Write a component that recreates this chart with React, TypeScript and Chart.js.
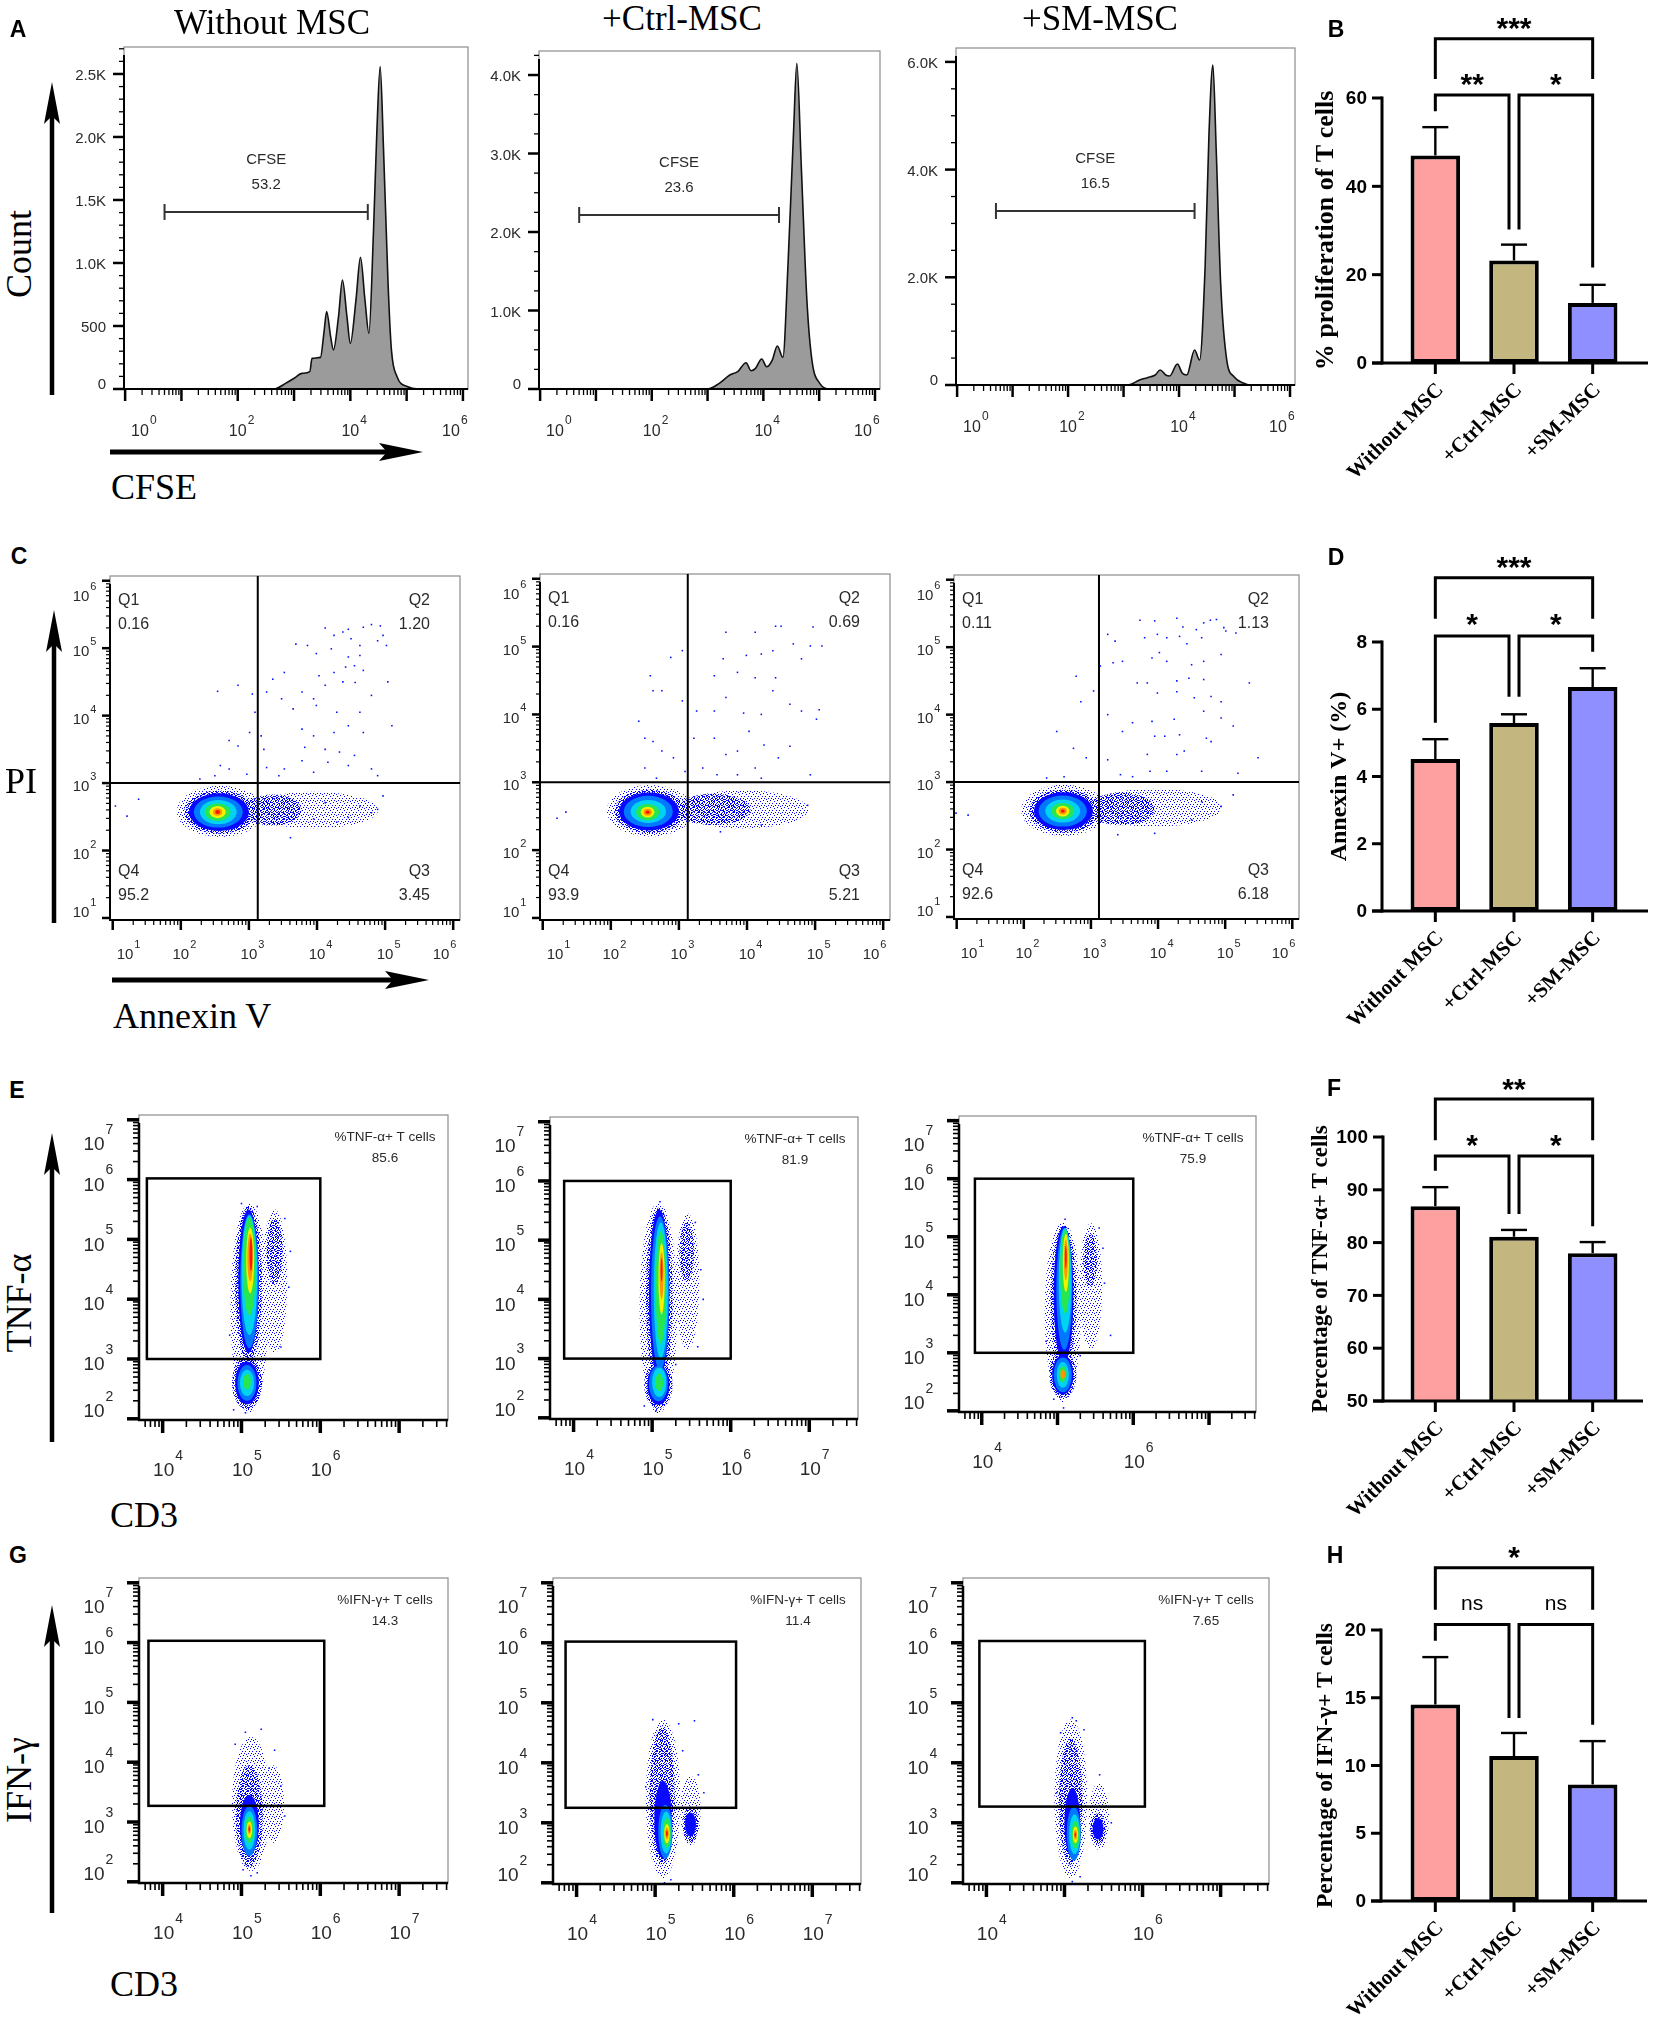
import React, { useEffect, useRef } from "react";
import { Chart, registerables } from "chart.js";
Chart.register(...registerables);

const SANS = "'Liberation Sans', Arial, sans-serif";
const SERIF = "'Liberation Serif', 'Times New Roman', serif";

// ================= DATA =================
const GROUPS = ["Without MSC", "+Ctrl-MSC", "+SM-MSC"];

// Panel A: CFSE histograms  [log10(CFSE), count]
const CFSE_WITHOUT = [
  [-0.02, 0], [2.6, 0], [2.67, 2], [2.85, 45], [3.0, 85], [3.14, 124], [3.28, 138], [3.32, 243], [3.47, 251],
  [3.53, 442], [3.58, 614], [3.65, 415], [3.7, 310], [3.79, 574], [3.86, 865], [3.94, 574], [4.0, 362],
  [4.1, 706], [4.18, 1045], [4.26, 706], [4.33, 442], [4.41, 1236], [4.47, 2029], [4.53, 2558], [4.59, 1897],
  [4.67, 839], [4.73, 310], [4.83, 98], [5.02, 18], [5.2, 0], [6.09, 0],
];
const CFSE_CTRL = [
  [-0.02, 0], [2.95, 0], [3.02, 2], [3.21, 72], [3.4, 178], [3.54, 221], [3.69, 335], [3.78, 233], [3.86, 263],
  [3.97, 382], [4.06, 284], [4.16, 369], [4.25, 548], [4.35, 404], [4.44, 1558], [4.54, 3257], [4.6, 4149],
  [4.68, 2832], [4.78, 1134], [4.87, 369], [5.01, 72], [5.2, 0], [6.09, 0],
];
const CFSE_SM = [
  [-0.02, 0], [3.05, 0], [3.1, 2], [3.29, 93], [3.43, 136], [3.57, 186], [3.66, 279], [3.76, 186], [3.83, 167],
  [3.97, 390], [4.06, 217], [4.14, 186], [4.28, 650], [4.37, 464], [4.47, 2197], [4.54, 4674], [4.61, 5942],
  [4.67, 4364], [4.75, 1888], [4.86, 464], [4.99, 155], [5.17, 31], [5.27, 0], [6.09, 0],
];
const CFSE_SERIES = [CFSE_WITHOUT, CFSE_CTRL, CFSE_SM];
const CFSE_YMAX = [2714, 4306, 6258];
const CFSE_YTICKS = [[0, 500, 1000, 1500, 2000, 2500], [0, 1000, 2000, 3000, 4000], [0, 2000, 4000, 6000]];
const CFSE_YTICK_LABELS = [["0", "500", "1.0K", "1.5K", "2.0K", "2.5K"], ["0", "1.0K", "2.0K", "3.0K", "4.0K"], ["0", "2.0K", "4.0K", "6.0K"]];
const CFSE_YMINOR = [100, 250, 500];
const CFSE_XLABELS = [0, 2, 4, 6];
const CFSE_GATE_FROM = [0.7, 0.7, 0.7];
const CFSE_GATE_TO = [4.31, 4.28, 4.28];
const CFSE_GATE_AT = [1405, 2217, 3231];
const CFSE_GATE_PCT = ["53.2", "23.6", "16.5"];

// Panel C: Annexin V / PI  (log10 values)
const QUAD_X_SPLIT = [3.13, 3.13, 3.12];
const QUAD_Y_SPLIT = [3.0, 3.0, 3.0];
const QUAD_PCT = [
  ["0.16", "1.20", "3.45", "95.2"],
  ["0.16", "0.69", "5.21", "93.9"],
  ["0.11", "1.13", "6.18", "92.6"],
];
const QUAD_XLABELS = [1, 2, 3, 4, 5, 6];
const QUAD_YLABELS = [1, 2, 3, 4, 5, 6];
// density blobs: [cx, cy, rx, ry, level]
const C1_BLOBS = [
  [2.58, 2.58, 0.64, 0.38, 1], [3.95, 2.6, 0.95, 0.27, 1], [3.35, 2.6, 0.42, 0.23, 2], [2.57, 2.57, 0.52, 0.32, 2],
  [2.56, 2.57, 0.44, 0.28, 3], [2.55, 2.57, 0.36, 0.23, 4], [2.55, 2.57, 0.27, 0.18, 5], [2.54, 2.57, 0.19, 0.13, 6],
  [2.54, 2.57, 0.12, 0.09, 7], [2.54, 2.57, 0.07, 0.055, 8], [2.54, 2.57, 0.035, 0.03, 9],
];
const C2_BLOBS = [
  [2.58, 2.58, 0.64, 0.38, 1], [3.95, 2.6, 0.95, 0.28, 1], [3.5, 2.6, 0.55, 0.23, 2], [2.57, 2.57, 0.52, 0.32, 2],
  [2.56, 2.57, 0.44, 0.28, 3], [2.55, 2.57, 0.36, 0.23, 4], [2.55, 2.57, 0.26, 0.17, 5], [2.54, 2.56, 0.17, 0.12, 6],
  [2.54, 2.56, 0.1, 0.08, 7], [2.54, 2.56, 0.06, 0.05, 8], [2.54, 2.56, 0.03, 0.025, 9],
];
const C3_BLOBS = [
  [2.6, 2.58, 0.64, 0.38, 1], [3.95, 2.62, 1.0, 0.28, 1], [3.45, 2.6, 0.5, 0.24, 2], [2.6, 2.57, 0.52, 0.32, 2],
  [2.59, 2.57, 0.44, 0.28, 3], [2.58, 2.57, 0.36, 0.23, 4], [2.58, 2.57, 0.26, 0.17, 5], [2.58, 2.57, 0.17, 0.12, 6],
  [2.58, 2.57, 0.1, 0.08, 7], [2.58, 2.57, 0.06, 0.05, 8], [2.58, 2.57, 0.03, 0.025, 9],
];
const C1_DOTS = [
  [4.12, 5.3], [4.25, 5.19], [4.38, 5.24], [4.46, 5.28], [4.68, 5.31], [4.8, 5.35], [4.93, 5.33], [4.97, 5.19], [4.5, 5.14],
  [4.63, 5.04], [4.89, 5.11], [5.02, 5.04], [3.69, 5.06], [3.86, 5.04], [3.99, 4.92], [4.21, 4.99], [4.46, 4.87], [4.63, 4.89],
  [4.42, 4.72], [4.55, 4.74], [4.68, 4.67], [4.25, 4.64], [4.03, 4.59], [4.38, 4.5], [4.56, 4.49], [5.04, 4.5], [4.8, 4.3],
  [3.78, 4.35], [3.95, 4.25], [4.12, 4.45], [3.52, 4.64], [3.35, 4.54], [3.26, 4.35], [3.05, 4.32], [2.84, 4.45], [2.54, 4.36],
  [3.48, 4.25], [3.65, 4.1], [3.99, 4.15], [4.29, 4.05], [4.63, 4.05], [3.09, 4.05], [3.01, 3.75], [3.18, 3.7], [3.78, 3.8],
  [3.95, 3.7], [4.25, 3.75], [4.46, 3.85], [4.68, 3.75], [5.1, 3.85], [2.71, 3.63], [2.84, 3.55], [3.22, 3.5], [3.82, 3.53],
  [4.12, 3.5], [4.33, 3.46], [4.55, 3.41], [2.58, 3.26], [2.71, 3.21], [3.26, 3.23], [3.52, 3.21], [3.78, 3.33], [3.95, 3.16],
  [4.16, 3.31], [4.46, 3.26], [4.8, 3.21], [4.89, 3.11], [2.5, 3.11], [2.28, 3.06], [2.97, 3.13], [3.44, 3.11],
  [1.38, 2.76], [1.21, 2.51], [1.04, 2.66], [3.61, 2.19], [4.97, 2.81], [4.89, 2.61], [4.8, 2.56], [4.46, 2.49], [4.29, 2.42],
  [4.63, 2.66], [4.12, 2.71], [3.95, 2.47],
];
const C2_DOTS = [
  [3.69, 5.21], [4.12, 5.21], [4.42, 5.3], [4.5, 5.3], [4.97, 5.29], [5.1, 5.01], [4.93, 5.01], [4.68, 5.04], [4.21, 4.89],
  [3.99, 4.87], [3.65, 4.82], [4.38, 4.94], [4.8, 4.82], [3.86, 4.62], [4.12, 4.54], [4.42, 4.54], [3.52, 4.57], [3.69, 4.25],
  [4.38, 4.35], [3.05, 4.94], [2.88, 4.84], [2.58, 4.57], [2.62, 4.35], [2.75, 4.35], [3.26, 4.05], [3.52, 4.05], [3.95, 4.02],
  [4.21, 4.0], [4.63, 4.15], [4.8, 4.05], [5.06, 4.07], [5.02, 3.93], [2.41, 3.9], [2.5, 3.65], [2.62, 3.6], [3.05, 4.2],
  [3.22, 3.65], [3.52, 3.65], [4.03, 3.75], [4.25, 3.55], [4.63, 3.53], [3.69, 3.41], [3.86, 3.46], [2.92, 3.36], [2.75, 3.46],
  [4.12, 3.21], [4.46, 3.36], [3.56, 3.11], [3.35, 3.21], [2.5, 3.21], [2.67, 3.06], [3.86, 3.11], [4.93, 3.11], [4.21, 3.06],
  [3.09, 3.16], [1.21, 2.47], [1.34, 2.56], [4.89, 2.66], [4.21, 2.37], [3.61, 2.27],
];
const C3_DOTS = [
  [3.73, 5.4], [3.95, 5.39], [4.28, 5.43], [4.37, 5.3], [4.57, 5.26], [4.68, 5.36], [4.78, 5.4], [4.87, 5.41], [4.98, 5.29],
  [5.16, 5.21], [5.01, 5.24], [3.25, 5.19], [3.36, 5.09], [3.8, 5.14], [3.99, 5.19], [4.13, 5.14], [4.32, 5.16], [4.43, 5.05],
  [4.65, 5.14], [4.02, 4.92], [3.91, 4.84], [4.13, 4.79], [4.5, 4.74], [4.68, 4.79], [4.94, 4.89], [3.33, 4.77], [3.47, 4.79],
  [3.14, 4.72], [3.69, 4.47], [3.84, 4.47], [4.28, 4.5], [4.46, 4.54], [4.68, 4.52], [5.36, 4.47], [3.99, 4.32], [4.28, 4.34],
  [4.54, 4.25], [4.79, 4.27], [4.94, 4.19], [2.78, 4.57], [3.04, 4.35], [2.85, 4.19], [3.25, 4.0], [3.62, 3.88], [3.91, 3.9],
  [4.24, 3.93], [4.68, 4.05], [4.94, 3.95], [5.12, 3.83], [2.49, 3.75], [2.74, 3.5], [2.93, 3.36], [3.47, 3.75], [3.95, 3.68],
  [4.1, 3.68], [4.32, 3.7], [4.72, 3.65], [4.79, 3.6], [5.49, 3.36], [3.25, 3.33], [3.84, 3.41], [4.28, 3.41], [4.39, 3.46],
  [5.19, 3.13], [3.44, 3.11], [3.62, 3.08], [3.88, 3.16], [4.13, 3.16], [4.65, 3.16], [2.6, 3.08], [2.34, 3.06],
  [5.12, 2.81], [4.94, 2.64], [4.65, 2.71], [4.5, 2.44], [3.95, 2.24], [3.4, 2.22], [1.17, 2.51], [0.99, 2.54],
];
const QUAD_BLOBS = [C1_BLOBS, C2_BLOBS, C3_BLOBS];
const QUAD_DOTS = [C1_DOTS, C2_DOTS, C3_DOTS];

// Panels E / G: CD3 vs cytokine (log10 values)
const TNF_GATES = [[3.8, 6.0, 3.0, 6.02], [3.88, 6.0, 3.0, 6.0], [3.91, 6.0, 3.0, 6.0]];
const TNF_PCT = ["85.6", "81.9", "75.9"];
const TNF_XLABELS = [[4, 5, 6], [4, 5, 6, 7], [4, 6]];
const IFN_GATES = [[3.82, 6.05, 3.27, 6.03], [3.86, 6.03, 3.25, 6.02], [3.91, 6.03, 3.27, 6.03]];
const IFN_PCT = ["14.3", "11.4", "7.65"];
const IFN_XLABELS = [[4, 5, 6, 7], [4, 5, 6, 7], [4, 6]];
const CYTO_YLABELS = [2, 3, 4, 5, 6, 7];
const E1_BLOBS = [
  [5.1, 3.85, 0.24, 1.75, 1], [5.42, 4.3, 0.16, 1.2, 1], [5.42, 4.8, 0.1, 0.55, 2], [5.09, 4.25, 0.17, 1.3, 2],
  [5.07, 2.6, 0.19, 0.44, 2], [5.09, 4.3, 0.13, 1.2, 3], [5.07, 2.6, 0.15, 0.36, 3], [5.1, 4.3, 0.115, 1.12, 4],
  [5.07, 2.6, 0.12, 0.3, 4], [5.1, 4.4, 0.1, 1.0, 5], [5.07, 2.6, 0.09, 0.22, 5], [5.1, 4.55, 0.08, 0.82, 6],
  [5.07, 2.62, 0.05, 0.13, 6], [5.11, 4.65, 0.05, 0.55, 7], [5.11, 4.7, 0.035, 0.4, 8], [5.12, 4.75, 0.018, 0.28, 9],
];
const E2_BLOBS = [
  [5.08, 3.85, 0.24, 1.78, 1], [5.45, 4.3, 0.15, 1.15, 1], [5.44, 4.8, 0.09, 0.5, 2], [5.09, 4.05, 0.17, 1.5, 2],
  [5.08, 2.55, 0.18, 0.4, 2], [5.09, 4.1, 0.13, 1.42, 3], [5.08, 2.56, 0.14, 0.34, 3], [5.1, 4.1, 0.115, 1.3, 4],
  [5.08, 2.58, 0.12, 0.3, 4], [5.11, 4.15, 0.09, 1.15, 5], [5.09, 2.6, 0.09, 0.25, 5], [5.11, 4.2, 0.065, 0.95, 6],
  [5.09, 2.6, 0.05, 0.15, 6], [5.12, 4.35, 0.04, 0.6, 7], [5.12, 4.4, 0.025, 0.4, 8], [5.12, 4.5, 0.012, 0.2, 9],
];
const E3_BLOBS = [
  [5.07, 3.7, 0.24, 1.55, 1], [5.44, 4.15, 0.15, 1.08, 1], [5.43, 4.6, 0.09, 0.45, 2], [5.08, 3.95, 0.17, 1.25, 2],
  [5.07, 2.62, 0.18, 0.4, 2], [5.08, 4.0, 0.13, 1.18, 3], [5.07, 2.62, 0.14, 0.34, 3], [5.09, 4.1, 0.105, 1.05, 4],
  [5.07, 2.62, 0.12, 0.3, 4], [5.1, 4.25, 0.085, 0.9, 5], [5.07, 2.62, 0.08, 0.22, 5], [5.1, 4.4, 0.065, 0.72, 6],
  [5.07, 2.63, 0.05, 0.14, 6], [5.11, 4.55, 0.04, 0.5, 7], [5.07, 2.63, 0.03, 0.08, 8], [5.11, 4.6, 0.025, 0.35, 8],
  [5.11, 4.65, 0.012, 0.2, 9],
];
const G1_BLOBS = [
  [5.12, 3.3, 0.24, 1.12, 1], [5.4, 3.3, 0.14, 0.65, 1], [5.1, 3.1, 0.17, 0.85, 2], [5.1, 2.95, 0.12, 0.5, 3],
  [5.1, 2.85, 0.1, 0.42, 4], [5.1, 2.86, 0.075, 0.32, 5], [5.1, 2.87, 0.055, 0.22, 6], [5.1, 2.87, 0.035, 0.14, 7],
  [5.1, 2.88, 0.02, 0.08, 8], [5.1, 2.88, 0.01, 0.04, 9],
];
const G2_BLOBS = [
  [5.1, 3.4, 0.22, 1.32, 1], [5.45, 3.2, 0.13, 0.58, 1], [5.45, 2.97, 0.1, 0.3, 2], [5.45, 2.97, 0.07, 0.2, 3],
  [5.09, 3.45, 0.16, 1.15, 2], [5.1, 3.05, 0.11, 0.65, 3], [5.13, 2.85, 0.09, 0.45, 4], [5.14, 2.84, 0.07, 0.35, 5],
  [5.15, 2.83, 0.05, 0.25, 6], [5.15, 2.82, 0.035, 0.16, 7], [5.15, 2.82, 0.022, 0.1, 8], [5.15, 2.82, 0.012, 0.05, 9],
];
const G3_BLOBS = [
  [5.08, 3.4, 0.21, 1.32, 1], [5.44, 3.1, 0.13, 0.55, 1], [5.43, 2.9, 0.1, 0.26, 2], [5.43, 2.9, 0.07, 0.18, 3],
  [5.08, 3.35, 0.15, 1.05, 2], [5.1, 3.0, 0.1, 0.58, 3], [5.12, 2.82, 0.09, 0.45, 4], [5.13, 2.81, 0.07, 0.33, 5],
  [5.14, 2.8, 0.05, 0.23, 6], [5.14, 2.8, 0.033, 0.14, 7], [5.14, 2.8, 0.02, 0.08, 8], [5.14, 2.8, 0.01, 0.04, 9],
];
const E1_DOTS = [[5.0, 5.6], [5.2, 5.55], [5.55, 5.35], [5.6, 4.2], [5.5, 3.2], [4.85, 3.4], [4.9, 2.15], [5.05, 2.1], [5.35, 3.0], [5.62, 4.8]];
const E2_DOTS = [[5.1, 5.65], [5.55, 5.3], [5.62, 4.5], [5.58, 3.2], [4.85, 3.0], [4.9, 2.2], [5.05, 2.12], [5.3, 2.9], [5.65, 4.0]];
const E3_DOTS = [[5.1, 5.3], [5.55, 5.15], [5.62, 4.2], [5.7, 3.3], [4.85, 3.2], [4.95, 2.2], [5.08, 2.05], [5.3, 2.95], [5.6, 4.8]];
const G1_DOTS = [[5.05, 4.5], [5.25, 4.55], [5.42, 4.2], [5.5, 3.6], [5.55, 3.1], [4.92, 4.3], [5.12, 2.1], [5.02, 2.2], [5.2, 2.15], [5.35, 3.9]];
const G2_DOTS = [[4.97, 4.72], [5.3, 4.65], [5.5, 4.7], [5.62, 3.5], [5.2, 2.05], [5.12, 2.0], [4.88, 3.6], [5.35, 4.2], [5.55, 3.8]];
const G3_DOTS = [[5.1, 4.75], [5.15, 4.7], [5.25, 4.55], [4.95, 4.5], [5.45, 3.8], [5.6, 3.0], [5.1, 2.02], [5.2, 2.1], [4.9, 3.5]];

// Bar panels
const PROLIF_MEAN = [47.0, 23.2, 13.6];
const PROLIF_ERR = [6.4, 3.6, 4.1];
const PROLIF_TICKS = [0, 20, 40, 60];
const PROLIF_SIG = [
  { a: 0, b: 1, y: 60.7, ya: 57.0, yb: 30.2, label: "**", ly: 64.8 },
  { a: 1, b: 2, y: 60.7, ya: 30.2, yb: 21.6, label: "*", ly: 64.8 },
  { a: 0, b: 2, y: 73.4, ya: 64.3, yb: 64.3, label: "***", ly: 77.5 },
];
const ANNEXIN_MEAN = [4.52, 5.59, 6.66];
const ANNEXIN_ERR = [0.59, 0.26, 0.56];
const ANNEXIN_TICKS = [0, 2, 4, 6, 8];
const ANNEXIN_SIG = [
  { a: 0, b: 1, y: 8.18, ya: 5.6, yb: 6.37, label: "*", ly: 8.75 },
  { a: 1, b: 2, y: 8.18, ya: 6.37, yb: 7.71, label: "*", ly: 8.75 },
  { a: 0, b: 2, y: 9.91, ya: 8.69, yb: 8.69, label: "***", ly: 10.45 },
];
const TNF_MEAN = [86.9, 81.1, 78.0];
const TNF_ERR = [3.6, 1.3, 2.1];
const TNF_TICKS = [50, 60, 70, 80, 90, 100];
const TNF_SIG = [
  { a: 0, b: 1, y: 96.4, ya: 93.6, yb: 85.4, label: "*", ly: 99.8 },
  { a: 1, b: 2, y: 96.4, ya: 85.4, yb: 83.1, label: "*", ly: 99.8 },
  { a: 0, b: 2, y: 107.2, ya: 99.4, yb: 99.4, label: "**", ly: 110.4 },
];
const IFN_MEAN = [14.5, 10.7, 8.6];
const IFN_ERR = [3.5, 1.7, 3.2];
const IFN_TICKS = [0, 5, 10, 15, 20];
const IFN_SIG = [
  { a: 0, b: 1, y: 20.4, ya: 19.2, yb: 13.5, label: "ns", ly: 21.9 },
  { a: 1, b: 2, y: 20.4, ya: 13.5, yb: 13.0, label: "ns", ly: 21.9 },
  { a: 0, b: 2, y: 24.6, ya: 21.5, yb: 21.5, label: "*", ly: 25.9 },
];

// ================= LAYOUT / STYLE =================
const BAR_COLORS = ["#FFA0A0", "#C3B67F", "#8F8FFF"];
const LEVEL_COLORS = ["", "#0000ff", "#0000ff", "#0a0aff", "#0078ff", "#00d2f0", "#28e650", "#f5f000", "#ff9600", "#ff1400"];
const SPARSE_TILE = { size: 7, dots: [[0, 0], [4, 1], [2, 3], [6, 3], [5, 5], [1, 5], [3, 6]] };
const MEDIUM_TILE = { size: 5, dots: [[0, 0], [2, 0], [4, 1], [1, 2], [3, 2], [0, 3], [4, 3], [2, 4], [1, 4]] };

const HIST_BOX = [[124, 47, 468, 389], [539, 51, 880, 389], [956, 48, 1295, 385]];
const QUAD_BOX = [[110, 576, 460, 920], [540, 574, 890, 920], [954, 575, 1299, 919]];
const TNF_BOX = [[139, 1115, 448, 1420], [550, 1117, 858, 1419], [959, 1116, 1256, 1412]];
const IFN_BOX = [[139, 1578, 448, 1883], [553, 1578, 861, 1884], [963, 1578, 1269, 1884]];
const HIST_X = [-0.02, 6.09];
const QUAD_X = [0.96, 6.1];
const QUAD_Y = [0.97, 6.07];
const CD3_X = [3.7, 7.62];
const CYTO_Y = [1.98, 7.08];
const FM = { L: 78, T: 12, R: 12, B: 72 };

// ================= HELPERS =================
function seg(ctx: any, x1: number, y1: number, x2: number, y2: number) {
  ctx.beginPath(); ctx.moveTo(x1, y1); ctx.lineTo(x2, y2); ctx.stroke();
}
function clamp(v: number, lo: number, hi: number) { return Math.max(lo, Math.min(hi, v)); }
function decadesIn(lo: number, hi: number) { const o: number[] = []; for (let d = Math.ceil(lo); d <= Math.floor(hi); d++) o.push(d); return o; }
function minorsIn(lo: number, hi: number) {
  const o: number[] = [];
  for (let d = Math.floor(lo) - 1; d <= Math.ceil(hi); d++) for (let k = 2; k <= 9; k++) { const v = d + Math.log10(k); if (v >= lo && v <= hi) o.push(v); }
  return o;
}
function supLabel(ctx: any, cx: number, cy: number, exp: number, fs: number, ss: number, dy: number) {
  ctx.fillStyle = "#2a2a2a";
  ctx.font = `${fs}px ${SANS}`; ctx.textAlign = "center"; ctx.textBaseline = "middle"; ctx.fillText("10", cx, cy);
  const w = ctx.measureText("10").width;
  ctx.font = `${ss}px ${SANS}`; ctx.textAlign = "left"; ctx.fillText(String(exp), cx + w / 2 + 1, cy + dy);
}
function makePattern(ctx: any, tile: any, color: string) {
  const c = document.createElement("canvas"); c.width = tile.size; c.height = tile.size;
  const g = c.getContext("2d")!; g.fillStyle = color;
  for (const [x, y] of tile.dots) g.fillRect(x, y, 1, 1);
  return ctx.createPattern(c, "repeat");
}
function flowRect(box: number[]) {
  const [l, t, r, b] = box;
  return { left: l - FM.L, top: t - FM.T, width: r - l + FM.L + FM.R, height: b - t + FM.T + FM.B };
}
function baseOptions(pad: any, xr: number[], yr: number[]) {
  return {
    animation: false, responsive: false, maintainAspectRatio: false, events: [],
    layout: { padding: pad },
    plugins: { legend: { display: false }, tooltip: { enabled: false }, title: { display: false } },
    scales: {
      x: { type: "linear", display: false, min: xr[0], max: xr[1] },
      y: { type: "linear", display: false, min: yr[0], max: yr[1] },
    },
  };
}
const FLOW_PAD = { left: FM.L, top: FM.T, right: FM.R, bottom: FM.B };

function blobPlugin(blobs: number[][]) {
  return {
    id: "blobs",
    beforeDatasetsDraw(chart: any) {
      const { ctx, chartArea: a, scales: { x, y } } = chart;
      const fills: any[] = LEVEL_COLORS.map((c, i) => (i === 1 ? makePattern(ctx, SPARSE_TILE, c) : i === 2 ? makePattern(ctx, MEDIUM_TILE, c) : c));
      ctx.save(); ctx.beginPath(); ctx.rect(a.left, a.top, a.right - a.left, a.bottom - a.top); ctx.clip();
      const sorted = [...blobs].sort((p, q) => p[4] - q[4]);
      for (const [cx, cy, rx, ry, lv] of sorted) {
        const px = x.getPixelForValue(cx), py = y.getPixelForValue(cy);
        const prx = Math.abs(x.getPixelForValue(cx + rx) - px), pry = Math.abs(y.getPixelForValue(cy + ry) - py);
        ctx.fillStyle = fills[lv]; ctx.beginPath(); ctx.ellipse(px, py, prx, pry, 0, 0, Math.PI * 2); ctx.fill();
      }
      ctx.restore();
    },
  };
}

function boxAndAxes(chart: any, st: any) {
  const { ctx, chartArea: a } = chart;
  ctx.strokeStyle = "#8c8c8c"; ctx.lineWidth = 1.2; ctx.strokeRect(a.left, a.top, a.right - a.left, a.bottom - a.top);
  ctx.strokeStyle = "#000"; ctx.lineWidth = st.axisW;
  seg(ctx, a.left, a.top + 8, a.left, a.bottom + 1); seg(ctx, a.left - 1, a.bottom, a.right, a.bottom);
}
function logTicks(chart: any, st: any, doY: boolean) {
  const { ctx, chartArea: a, scales: { x, y } } = chart;
  ctx.strokeStyle = "#000";
  if (doY) {
    for (const v of minorsIn(y.min, y.max)) { const p = y.getPixelForValue(v); ctx.lineWidth = st.wMin; seg(ctx, a.left, p, a.left - st.yMin, p); }
    for (const v of decadesIn(y.min, y.max)) { const p = y.getPixelForValue(v); ctx.lineWidth = st.wMaj; seg(ctx, a.left, p, a.left - st.yMaj, p); }
  }
  for (const v of minorsIn(x.min, x.max)) { const p = x.getPixelForValue(v); ctx.lineWidth = st.wMin; seg(ctx, p, a.bottom, p, a.bottom + st.xMin); }
  for (const v of decadesIn(x.min, x.max)) { const p = x.getPixelForValue(v); ctx.lineWidth = st.wMaj; seg(ctx, p, a.bottom, p, a.bottom + st.xMaj); }
}

// ================= CONFIG BUILDERS =================
function histConfig(i: number) {
  const frame = {
    id: "histFrame",
    afterDraw(chart: any) {
      const { ctx, chartArea: a, scales: { x, y } } = chart;
      ctx.save();
      const st = { axisW: 2, yMaj: 11, yMin: 5, xMaj: 12, xMin: 6, wMaj: 2.5, wMin: 1.3 };
      boxAndAxes(chart, st);
      for (let v = 0; v <= CFSE_YMAX[i]; v += CFSE_YMINOR[i]) {
        const p = y.getPixelForValue(v); const major = CFSE_YTICKS[i].includes(v);
        ctx.lineWidth = major ? 2.5 : 1.3; seg(ctx, a.left, p, a.left - (major ? st.yMaj : st.yMin), p);
      }
      logTicks(chart, st, false);
      ctx.fillStyle = "#2a2a2a"; ctx.font = `15px ${SANS}`; ctx.textAlign = "right"; ctx.textBaseline = "middle";
      CFSE_YTICKS[i].forEach((v, k) => ctx.fillText(CFSE_YTICK_LABELS[i][k], a.left - 18, Math.min(y.getPixelForValue(v) + 2, a.bottom - 4)));
      for (const d of CFSE_XLABELS) supLabel(ctx, clamp(x.getPixelForValue(d), a.left + 16, a.right - 17), a.bottom + 43, d, 16, 12, -11);
      const gy = y.getPixelForValue(CFSE_GATE_AT[i]);
      const g1 = x.getPixelForValue(CFSE_GATE_FROM[i]), g2 = x.getPixelForValue(CFSE_GATE_TO[i]);
      ctx.strokeStyle = "#333"; ctx.lineWidth = 2;
      seg(ctx, g1, gy, g2, gy); seg(ctx, g1, gy - 8, g1, gy + 8); seg(ctx, g2, gy - 8, g2, gy + 8);
      ctx.fillStyle = "#2a2a2a"; ctx.font = `15px ${SANS}`; ctx.textAlign = "center"; ctx.textBaseline = "middle";
      ctx.fillText("CFSE", (g1 + g2) / 2, gy - 52); ctx.fillText(CFSE_GATE_PCT[i], (g1 + g2) / 2, gy - 27);
      ctx.restore();
    },
  };
  return {
    type: "line",
    data: {
      datasets: [{
        data: CFSE_SERIES[i].map(([x, y]) => ({ x, y })), fill: "origin", backgroundColor: "#9b9b9b",
        borderColor: "#111", borderWidth: 1.6, pointRadius: 0, cubicInterpolationMode: "monotone",
      }],
    },
    options: baseOptions(FLOW_PAD, HIST_X, [0, CFSE_YMAX[i]]),
    plugins: [frame],
  };
}

function quadConfig(i: number) {
  const frame = {
    id: "quadFrame",
    afterDraw(chart: any) {
      const { ctx, chartArea: a, scales: { x, y } } = chart;
      ctx.save();
      const st = { axisW: 2, yMaj: 8, yMin: 4, xMaj: 10, xMin: 5, wMaj: 2.5, wMin: 1.2 };
      boxAndAxes(chart, st); logTicks(chart, st, true);
      for (const d of QUAD_YLABELS) supLabel(ctx, a.left - 29, clamp(y.getPixelForValue(d) + 4, a.top + 21, a.bottom - 7), d, 15, 11, -10);
      for (const d of QUAD_XLABELS) supLabel(ctx, clamp(x.getPixelForValue(d), a.left + 15, a.right - 19), a.bottom + 35, d, 15, 11, -10);
      const qx = x.getPixelForValue(QUAD_X_SPLIT[i]), qy = y.getPixelForValue(QUAD_Y_SPLIT[i]);
      ctx.strokeStyle = "#000"; ctx.lineWidth = 2;
      seg(ctx, qx, a.top, qx, a.bottom); seg(ctx, a.left, qy, a.right, qy);
      ctx.fillStyle = "#2a2a2a"; ctx.font = `16px ${SANS}`; ctx.textBaseline = "middle";
      const [q1, q2, q3, q4] = QUAD_PCT[i];
      ctx.textAlign = "left";
      ctx.fillText("Q1", a.left + 8, a.top + 25); ctx.fillText(q1, a.left + 8, a.top + 49);
      ctx.fillText("Q4", a.left + 8, a.bottom - 48); ctx.fillText(q4, a.left + 8, a.bottom - 24);
      ctx.textAlign = "right";
      ctx.fillText("Q2", a.right - 30, a.top + 25); ctx.fillText(q2, a.right - 30, a.top + 49);
      ctx.fillText("Q3", a.right - 30, a.bottom - 48); ctx.fillText(q3, a.right - 30, a.bottom - 24);
      ctx.restore();
    },
  };
  return {
    type: "scatter",
    data: { datasets: [{ data: QUAD_DOTS[i].map(([x, y]) => ({ x, y })), pointStyle: "rect", pointRadius: 1.1, backgroundColor: "#0010ff", borderWidth: 0 }] },
    options: baseOptions(FLOW_PAD, QUAD_X, QUAD_Y),
    plugins: [blobPlugin(QUAD_BLOBS[i]), frame],
  };
}

function cytoConfig(blobs: number[][], dots: number[][], gate: number[], gateText: string, pct: string, xLabels: number[]) {
  const frame = {
    id: "cytoFrame",
    afterDraw(chart: any) {
      const { ctx, chartArea: a, scales: { x, y } } = chart;
      ctx.save();
      const st = { axisW: 2.5, yMaj: 12, yMin: 6, xMaj: 13, xMin: 7, wMaj: 3.5, wMin: 1.6 };
      boxAndAxes(chart, st); logTicks(chart, st, true);
      for (const d of CYTO_YLABELS) supLabel(ctx, a.left - 45, clamp(y.getPixelForValue(d) + 6, a.top + 30, a.bottom - 8), d, 19, 14, -15);
      for (const d of xLabels) supLabel(ctx, x.getPixelForValue(d) + 1, a.bottom + 51, d, 19, 14, -15);
      const g1 = x.getPixelForValue(gate[0]), g2 = x.getPixelForValue(gate[1]);
      const gb = y.getPixelForValue(gate[2]), gt = y.getPixelForValue(gate[3]);
      ctx.strokeStyle = "#000"; ctx.lineWidth = 2.5; ctx.strokeRect(g1, gt, g2 - g1, gb - gt);
      ctx.fillStyle = "#2a2a2a"; ctx.font = `13.5px ${SANS}`; ctx.textAlign = "center"; ctx.textBaseline = "middle";
      ctx.fillText(gateText, a.right - 63, a.top + 22); ctx.fillText(pct, a.right - 63, a.top + 43);
      ctx.restore();
    },
  };
  return {
    type: "scatter",
    data: { datasets: [{ data: dots.map(([x, y]) => ({ x, y })), pointStyle: "rect", pointRadius: 1.1, backgroundColor: "#0010ff", borderWidth: 0 }] },
    options: baseOptions(FLOW_PAD, CD3_X, CYTO_Y),
    plugins: [blobPlugin(blobs), frame],
  };
}

const BAR_PANELS = [
  { mean: PROLIF_MEAN, err: PROLIF_ERR, range: [0, 60], ticks: PROLIF_TICKS, sig: PROLIF_SIG, title: "% proliferation of T cells", titleSize: 26, rect: [1290, 0, 363, 500], area: [1396, 98, 1632, 363], yAxisX: 1382, xAxisRight: 1648, titleX: 1326 },
  { mean: ANNEXIN_MEAN, err: ANNEXIN_ERR, range: [0, 8], ticks: ANNEXIN_TICKS, sig: ANNEXIN_SIG, title: "Annexin V+ (%)", titleSize: 24, rect: [1290, 530, 363, 510], area: [1396, 642, 1632, 911], yAxisX: 1382, xAxisRight: 1648, titleX: 1340 },
  { mean: TNF_MEAN, err: TNF_ERR, range: [50, 100], ticks: TNF_TICKS, sig: TNF_SIG, title: "Percentage of TNF-\u03b1+ T cells", titleSize: 23, rect: [1290, 1060, 363, 470], area: [1396, 1137, 1632, 1401], yAxisX: 1383, xAxisRight: 1643, titleX: 1321 },
  { mean: IFN_MEAN, err: IFN_ERR, range: [0, 20], ticks: IFN_TICKS, sig: IFN_SIG, title: "Percentage of IFN-\u03b3+ T cells", titleSize: 23.5, rect: [1290, 1530, 363, 488], area: [1396, 1630, 1632, 1901], yAxisX: 1381, xAxisRight: 1647, titleX: 1326 },
];

function barConfig(p: any) {
  const [cl, ct, cw, ch] = p.rect;
  const pad = { left: p.area[0] - cl, top: p.area[1] - ct, right: cl + cw - p.area[2], bottom: ct + ch - p.area[3] };
  const decor = {
    id: "barDecor",
    afterDatasetsDraw(chart: any) {
      const { ctx, scales: { x, y } } = chart;
      ctx.save(); ctx.strokeStyle = "#000"; ctx.lineWidth = 2.4;
      p.mean.forEach((m: number, k: number) => {
        const cx = x.getPixelForValue(k); const top = y.getPixelForValue(m + p.err[k]);
        seg(ctx, cx, y.getPixelForValue(m), cx, top); seg(ctx, cx - 13, top, cx + 13, top);
      });
      ctx.restore();
    },
    afterDraw(chart: any) {
      const { ctx, scales: { x, y } } = chart;
      const ax = p.yAxisX - cl, xr = p.xAxisRight - cl;
      const y0 = y.getPixelForValue(p.range[0]), yTop = y.getPixelForValue(p.range[1]);
      ctx.save(); ctx.strokeStyle = "#000"; ctx.lineWidth = 3;
      seg(ctx, ax, y0 + 1.5, ax, yTop - 1.5); seg(ctx, ax - 10, y0, xr, y0);
      ctx.fillStyle = "#000"; ctx.font = `bold 19px ${SANS}`; ctx.textAlign = "right"; ctx.textBaseline = "middle";
      for (const t of p.ticks) { const py = y.getPixelForValue(t); seg(ctx, ax, py, ax - 10, py); ctx.fillText(String(t), ax - 15, py + 1); }
      GROUPS.forEach((g, k) => {
        const cx = x.getPixelForValue(k); seg(ctx, cx, y0, cx, y0 + 11);
        ctx.save(); ctx.translate(cx + 5, y0 + 24); ctx.rotate(-Math.PI / 4);
        ctx.font = `bold 21px ${SERIF}`; ctx.textAlign = "right"; ctx.textBaseline = "middle"; ctx.fillText(g, 0, 0);
        ctx.restore();
      });
      ctx.lineWidth = 3;
      for (const s of p.sig) {
        const xa = x.getPixelForValue(s.a) + (s.a === 1 && s.b - s.a === 1 ? 5 : 0);
        const xb = x.getPixelForValue(s.b) - (s.b === 1 && s.b - s.a === 1 ? 5 : 0);
        const yy = y.getPixelForValue(s.y);
        ctx.beginPath(); ctx.moveTo(xa, y.getPixelForValue(s.ya)); ctx.lineTo(xa, yy); ctx.lineTo(xb, yy); ctx.lineTo(xb, y.getPixelForValue(s.yb)); ctx.stroke();
        const ly = y.getPixelForValue(s.ly);
        ctx.textAlign = "center";
        if (s.label === "ns") { ctx.font = `21px ${SANS}`; ctx.textBaseline = "middle"; ctx.fillText("ns", (xa + xb) / 2, ly); }
        else { ctx.font = `bold 30px ${SANS}`; ctx.textBaseline = "alphabetic"; ctx.fillText(s.label, (xa + xb) / 2, ly + 17); }
      }
      ctx.save(); ctx.translate(p.titleX - cl, (y0 + yTop) / 2); ctx.rotate(-Math.PI / 2);
      ctx.font = `bold ${p.titleSize}px ${SERIF}`; ctx.textAlign = "center"; ctx.textBaseline = "middle"; ctx.fillText(p.title, 0, 0);
      ctx.restore();
      ctx.restore();
    },
  };
  const opts: any = baseOptions(pad, [0, 0], p.range);
  opts.scales = { x: { type: "category", display: false }, y: { type: "linear", display: false, min: p.range[0], max: p.range[1] } };
  return {
    type: "bar",
    data: {
      labels: GROUPS,
      datasets: [{ data: p.mean, backgroundColor: BAR_COLORS, borderColor: "#000", borderWidth: 4, borderSkipped: false, categoryPercentage: 1, barPercentage: 0.63 }],
    },
    options: opts,
    plugins: [decor],
  };
}

// ================= COMPONENTS =================
function ChartBox({ rect, make }: { rect: any; make: () => any }) {
  const ref = useRef<HTMLCanvasElement>(null);
  useEffect(() => {
    const chart = new Chart(ref.current as HTMLCanvasElement, make());
    return () => chart.destroy();
  }, []);
  return <canvas ref={ref} width={rect.width} height={rect.height} style={{ position: "absolute", left: rect.left, top: rect.top, width: rect.width, height: rect.height }} />;
}

function Txt({ x, y, children, size, font = SERIF, bold = false, rotate = false, anchor = "center" }: any) {
  const tr = anchor === "center" ? "translate(-50%,-50%)" : "translate(0,-50%)";
  return (
    <div style={{ position: "absolute", left: x, top: y, transform: tr + (rotate ? " rotate(-90deg)" : ""), fontFamily: font, fontSize: size, fontWeight: bold ? "bold" : "normal", whiteSpace: "nowrap", lineHeight: 1, color: "#000" }}>
      {children}
    </div>
  );
}

function UpArrow({ x, y1, y2 }: any) {
  return (
    <g>
      <line x1={x} y1={y1} x2={x} y2={y2 + 30} stroke="#000" strokeWidth={4.5} />
      <polygon points={`${x},${y2} ${x - 8},${y2 + 42} ${x},${y2 + 34} ${x + 8},${y2 + 42}`} fill="#000" />
    </g>
  );
}
function RightArrow({ y, x1, x2 }: any) {
  return (
    <g>
      <line x1={x1} y1={y} x2={x2 - 30} y2={y} stroke="#000" strokeWidth={5} />
      <polygon points={`${x2},${y} ${x2 - 44},${y - 9} ${x2 - 36},${y} ${x2 - 44},${y + 9}`} fill="#000" />
    </g>
  );
}

export default function App() {
  const tnfBlobs = [E1_BLOBS, E2_BLOBS, E3_BLOBS], tnfDots = [E1_DOTS, E2_DOTS, E3_DOTS];
  const ifnBlobs = [G1_BLOBS, G2_BLOBS, G3_BLOBS], ifnDots = [G1_DOTS, G2_DOTS, G3_DOTS];
  return (
    <div style={{ position: "absolute", left: 0, top: 0, width: 1653, height: 2018, background: "#fff", overflow: "hidden" }}>
      {HIST_BOX.map((b, i) => <ChartBox key={"h" + i} rect={flowRect(b)} make={() => histConfig(i)} />)}
      {QUAD_BOX.map((b, i) => <ChartBox key={"q" + i} rect={flowRect(b)} make={() => quadConfig(i)} />)}
      {TNF_BOX.map((b, i) => <ChartBox key={"t" + i} rect={flowRect(b)} make={() => cytoConfig(tnfBlobs[i], tnfDots[i], TNF_GATES[i], "%TNF-\u03b1+ T cells", TNF_PCT[i], TNF_XLABELS[i])} />)}
      {IFN_BOX.map((b, i) => <ChartBox key={"g" + i} rect={flowRect(b)} make={() => cytoConfig(ifnBlobs[i], ifnDots[i], IFN_GATES[i], "%IFN-\u03b3+ T cells", IFN_PCT[i], IFN_XLABELS[i])} />)}
      {BAR_PANELS.map((p, i) => <ChartBox key={"b" + i} rect={{ left: p.rect[0], top: p.rect[1], width: p.rect[2], height: p.rect[3] }} make={() => barConfig(p)} />)}

      <Txt x={272} y={22} size={35}>{GROUPS[0]}</Txt>
      <Txt x={682} y={18} size={35}>{GROUPS[1]}</Txt>
      <Txt x={1100} y={18} size={35}>{GROUPS[2]}</Txt>

      {[["A", 18, 29], ["B", 1336, 29], ["C", 19, 556], ["D", 1336, 557], ["E", 17, 1090], ["F", 1334, 1088], ["G", 18, 1555], ["H", 1335, 1555]].map(([l, x, y]: any) => (
        <Txt key={l} x={x} y={y} size={23} font={SANS} bold>{l}</Txt>
      ))}

      <Txt x={19} y={254} size={36} rotate>Count</Txt>
      <Txt x={111} y={487} size={36} anchor="left">CFSE</Txt>
      <Txt x={21} y={781} size={36}>PI</Txt>
      <Txt x={113} y={1016} size={36} anchor="left">Annexin V</Txt>
      <Txt x={19} y={1303} size={36} rotate>TNF-{"\u03b1"}</Txt>
      <Txt x={110} y={1515} size={36} anchor="left">CD3</Txt>
      <Txt x={19} y={1780} size={36} rotate>IFN-{"\u03b3"}</Txt>
      <Txt x={110} y={1984} size={36} anchor="left">CD3</Txt>

      <svg width={1653} height={2018} style={{ position: "absolute", left: 0, top: 0, pointerEvents: "none" }}>
        <UpArrow x={52} y1={395} y2={82} />
        <RightArrow y={452} x1={110} x2={423} />
        <UpArrow x={54} y1={923} y2={610} />
        <RightArrow y={980} x1={112} x2={429} />
        <UpArrow x={52} y1={1442} y2={1133} />
        <UpArrow x={52} y1={1913} y2={1605} />
      </svg>
    </div>
  );
}
